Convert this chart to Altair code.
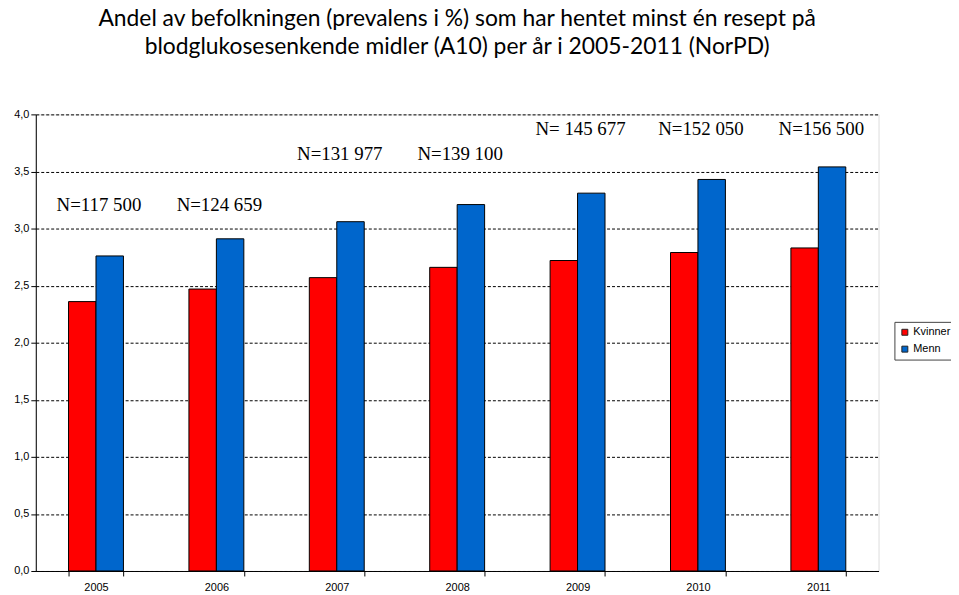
import altair as alt
import pandas as pd

years = ["2005", "2006", "2007", "2008", "2009", "2010", "2011"]
kvinner = [2.36, 2.47, 2.57, 2.66, 2.72, 2.79, 2.83]
menn = [2.76, 2.91, 3.06, 3.21, 3.31, 3.43, 3.54]
n_labels = ["N=117 500", "N=124 659", "N=131 977", "N=139 100",
            "N= 145 677", "N=152 050", "N=156 500"]
n_label_level = [3.21, 3.21, 3.65, 3.65, 3.87, 3.87, 3.87]
series = ["Kvinner", "Menn"]

rows = []
for i, y in enumerate(years):
    rows.append({"year": y, "kjonn": "Kvinner", "verdi": kvinner[i]})
    rows.append({"year": y, "kjonn": "Menn", "verdi": menn[i]})
df = pd.DataFrame(rows)
lab = pd.DataFrame({"year": years, "label": n_labels, "lvl": n_label_level})

xscale = alt.Scale(domain=years, paddingInner=0.544, paddingOuter=0.272)
yscale = alt.Scale(domain=[0, 4])

bars = alt.Chart(df).mark_bar(stroke="black", strokeWidth=1).encode(
    x=alt.X("year:N", scale=xscale, title=None,
            axis=alt.Axis(labelAngle=0, tickBand="extent", grid=False,
                          domainColor="black", tickColor="black", tickSize=5,
                          labelFont="Liberation Sans", labelFontSize=11,
                          labelColor="black", labelPadding=6)),
    xOffset=alt.XOffset("kjonn:N", sort=series, scale=alt.Scale(paddingInner=0, paddingOuter=0)),
    y=alt.Y("verdi:Q", scale=yscale, title=None,
            axis=alt.Axis(values=[0, 0.5, 1, 1.5, 2, 2.5, 3, 3.5, 4],
                          labelExpr="replace(format(datum.value, '.1f'), '.', ',')",
                          grid=True, gridColor="black", gridDash=[3, 2], gridWidth=1,
                          domainColor="black", tickColor="black", tickSize=5,
                          labelFont="Liberation Sans", labelFontSize=11,
                          labelColor="black", labelPadding=2)),
    color=alt.Color("kjonn:N", sort=series,
                    scale=alt.Scale(domain=series, range=["#FF0000", "#0066CC"]),
                    legend=alt.Legend(title=None, orient="none", legendX=865, legendY=209,
                                      symbolType="square", symbolSize=36,
                                      symbolStrokeColor="#222", symbolStrokeWidth=1,
                                      labelFont="Liberation Sans", labelFontSize=11,
                                      labelColor="black", strokeColor="#444",
                                      padding=5, rowPadding=5, labelOffset=3)),
)

texts = alt.Chart(lab).mark_text(font="Liberation Serif", fontSize=19, color="black",
                                 baseline="middle", dx=3).encode(
    x=alt.X("year:N", scale=xscale),
    y=alt.Y("lvl:Q", scale=yscale),
    text="label:N",
)

chart = alt.layer(bars, texts).properties(
    width=849, height=460,
    autosize=alt.AutoSizeParams(type="none"),
    padding={"left": 28, "top": 105, "right": 73, "bottom": 22},
    title=alt.Title(
        ["Andel av befolkningen (prevalens i %) som har hentet minst én resept på",
         "blodglukosesenkende midler (A10) per år i 2005-2011 (NorPD)"],
        font="Lato", fontSize=23, fontWeight="normal", color="black",
        anchor="middle", offset=50, lineHeight=28),
).configure_view(stroke="#888", strokeDash=[2, 2], strokeWidth=1
).configure(background="white")

chart.save("out.html", embed_options={"renderer": "svg", "actions": False})
